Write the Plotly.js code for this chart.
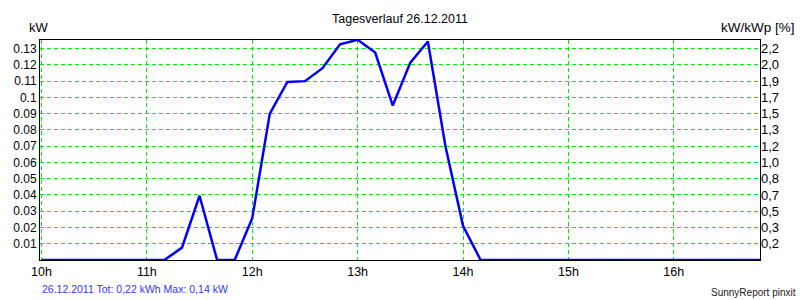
<!DOCTYPE html>
<html>
<head>
<meta charset="utf-8">
<script src="https://cdn.plot.ly/plotly-3.0.1.min.js"></script>
<style>
  html, body { margin: 0; padding: 0; background: #fff; }
  #chart { width: 800px; height: 300px; }
</style>
</head>
<body>
<div id="chart"></div>
<script>
// ---- data ----
const day = '2011-12-26';
const times = [
  '10:00','10:10','10:20','10:30','10:40','10:50',
  '11:00','11:10','11:20','11:30','11:40','11:50',
  '12:00','12:10','12:20','12:30','12:40','12:50',
  '13:00','13:10','13:20','13:30','13:40','13:50',
  '14:00','14:10','14:20','14:30','14:40','14:50',
  '15:00','15:10','15:20','15:30','15:40','15:50',
  '16:00','16:10','16:20','16:30','16:40','16:50'
];
const powerKW = [
  0, 0, 0, 0, 0, 0,
  0, 0, 0.0076, 0.0395, 0, 0,
  0.0257, 0.090, 0.1095, 0.110, 0.118, 0.1327,
  0.1354, 0.1276, 0.095, 0.1214, 0.1344, 0.070,
  0.021, 0, 0, 0, 0, 0,
  0, 0, 0, 0, 0, 0,
  0, 0, 0, 0, 0, 0
];
const hourTicks = ['10:00','11:00','12:00','13:00','14:00','15:00','16:00'];
const hourLabels = ['10h','11h','12h','13h','14h','15h','16h'];
const kwTicks = [0.01,0.02,0.03,0.04,0.05,0.06,0.07,0.08,0.09,0.10,0.11,0.12,0.13];
const kwLabels = ['0.01','0.02','0.03','0.04','0.05','0.06','0.07','0.08','0.09','0.1','0.11','0.12','0.13'];
const pctLabels = ['0,2','0,3','0,5','0,7','0,8','1,0','1,2','1,3','1,5','1,7','1,9','2,0','2,2'];
const titleText = 'Tagesverlauf 26.12.2011';
const footerText = '26.12.2011 Tot: 0,22 kWh Max: 0,14 kW';
const creditText = 'SunnyReport pinxit';

// ---- chart ----
const FONT = 'Liberation Sans, Arial, sans-serif';
const yRange = [0, 0.1353];
const xRange = [day + ' 09:59:10', day + ' 16:49:05'];
const gridColor = '#00ee00';

const trace = {
  x: times.map(t => day + ' ' + t),
  y: powerKW,
  type: 'scatter',
  mode: 'lines',
  line: { color: '#0000ff', width: 2.5 },
  hoverinfo: 'skip',
  showlegend: false
};
const trace2 = {
  x: [xRange[0]], y: [0], yaxis: 'y2', type: 'scatter', mode: 'markers',
  marker: { opacity: 0 }, hoverinfo: 'skip', showlegend: false
};

const layout = {
  width: 800, height: 300,
  margin: { l: 40, r: 40, t: 40, b: 40, pad: 0 },
  paper_bgcolor: '#ffffff', plot_bgcolor: '#ffffff',
  font: { family: FONT, size: 12, color: '#000' },
  title: {
    text: titleText, x: 0.5, xanchor: 'center', xref: 'paper',
    y: 1 - 19/300, yanchor: 'middle', yref: 'container',
    font: { family: FONT, size: 12.5, color: '#000' }
  },
  xaxis: {
    type: 'date', range: xRange,
    tickvals: hourTicks.map(t => day + ' ' + t), ticktext: hourLabels,
    showgrid: true, gridcolor: gridColor, gridwidth: 1, griddash: '4px,3px',
    showline: true, linecolor: '#000', linewidth: 1, mirror: true,
    zeroline: false, ticks: '', tickfont: { family: FONT, size: 12.5, color: '#000' }
  },
  yaxis: {
    range: yRange, tickvals: kwTicks, ticktext: kwLabels,
    showgrid: true, gridcolor: gridColor, gridwidth: 1, griddash: '4px,3px',
    showline: true, linecolor: '#000', linewidth: 1, mirror: true,
    zeroline: false, ticks: '', tickfont: { family: FONT, size: 12, color: '#000' }
  },
  yaxis2: {
    overlaying: 'y', side: 'right', range: yRange,
    tickvals: kwTicks, ticktext: pctLabels,
    showgrid: false, zeroline: false, showline: false, ticks: '',
    tickfont: { family: FONT, size: 13, color: '#000' }
  },
  annotations: [
    { text: 'kW', xref: 'paper', yref: 'paper', x: -0.0015, y: (260-27)/220,
      xanchor: 'center', yanchor: 'middle', showarrow: false,
      font: { family: FONT, size: 13, color: '#000' } },
    { text: 'kW/kWp [%]', xref: 'paper', yref: 'paper', x: (797-40)/720, y: (260-27)/220,
      xanchor: 'right', yanchor: 'middle', showarrow: false,
      font: { family: FONT, size: 13.5, color: '#000' } },
    { text: footerText, xref: 'paper', yref: 'paper', x: 0, y: (260-289)/220,
      xanchor: 'left', yanchor: 'middle', showarrow: false,
      font: { family: FONT, size: 10.5, color: '#3333ff' } },
    { text: creditText, xref: 'paper', yref: 'paper', x: (798-40)/720, y: (260-292)/220,
      xanchor: 'right', yanchor: 'middle', showarrow: false,
      font: { family: FONT, size: 10, color: '#202020' } }
  ]
};

Plotly.newPlot('chart', [trace, trace2], layout, { displayModeBar: false, staticPlot: true });
</script>
</body>
</html>
